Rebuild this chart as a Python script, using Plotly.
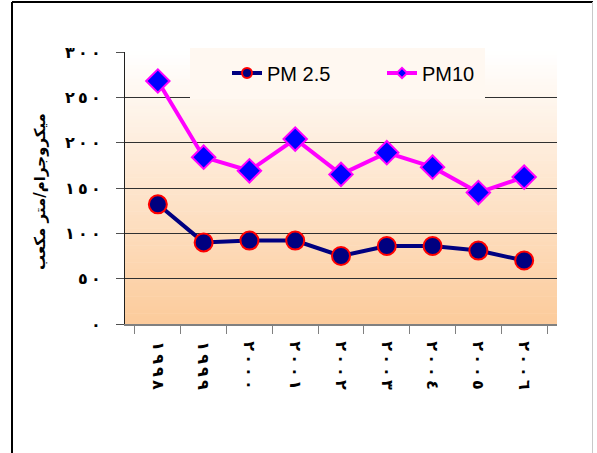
import plotly.graph_objects as go

categories = ["1998", "1999", "2000", "2001", "2002", "2003", "2004", "2005", "2006"]
cat_labels = ["١٩٩٨", "١٩٩٩", "٢٠٠٠", "٢٠٠١", "٢٠٠٢", "٢٠٠٣", "٢٠٠٤", "٢٠٠٥", "٢٠٠٦"]
pm25 = [132, 90, 92, 92, 75, 86, 86, 81, 70]
pm10 = [268, 184, 169, 204, 165, 189, 173, 145, 162]
y_ticks = [0, 50, 100, 150, 200, 250, 300]
y_labels = ["٠", "٥٠", "١٠٠", "١٥٠", "٢٠٠", "٢٥٠", "٣٠٠"]
y_title = "ميكروجرام/متر مكعب"

LRO, PDF = "\u202d", "\u202c"
def spaced(s):
    return LRO + "\u2009".join(list(s)) + PDF

W, H = 597, 453
L, R, T, B = 125, 40, 52, 129
pw, ph = W - L - R, H - T - B

def px(x):
    return (x - L) / pw

def py(y):
    return (H - B - y) / ph

fig = go.Figure()

fig.add_trace(go.Scatter(
    x=categories, y=pm25, mode="lines+markers", name="PM 2.5", showlegend=False,
    line=dict(color="#000080", width=4),
    marker=dict(symbol="circle", size=18, color="#000080", line=dict(color="#FF0000", width=2)),
))
fig.add_trace(go.Scatter(
    x=categories, y=pm10, mode="lines+markers", name="PM10", showlegend=False,
    line=dict(color="#FF00FF", width=4),
    marker=dict(symbol="diamond", size=18, color="#0000FF", line=dict(color="#FF00FF", width=2)),
))
# legend-only entries
fig.add_trace(go.Scatter(
    x=[None], y=[None], mode="lines+markers", name="PM 2.5",
    line=dict(color="#000080", width=4),
    marker=dict(symbol="circle", size=10, color="#000080", line=dict(color="#FF0000", width=2)),
))
fig.add_trace(go.Scatter(
    x=[None], y=[None], mode="lines+markers", name="PM10",
    line=dict(color="#FF00FF", width=4),
    marker=dict(symbol="diamond", size=8, color="#0000FF", line=dict(color="#FF00FF", width=2)),
))

shapes = []
# vertical gradient background of plot area
N = 80
c0 = (255, 255, 255)
c1 = (252, 203, 155)
for i in range(N):
    t = (i + 0.5) / N  # 0 at top -> 1 at bottom
    col = tuple(round(c0[k] + (c1[k] - c0[k]) * t) for k in range(3))
    shapes.append(dict(type="rect", xref="paper", yref="paper", layer="below",
                       x0=0, x1=1, y0=1 - (i + 1) / N, y1=1 - i / N + 0.002,
                       fillcolor="rgb(%d,%d,%d)" % col, line=dict(width=0)))
# legend backdrop hiding gridlines
shapes.append(dict(type="rect", xref="paper", yref="paper", layer="above",
                   x0=px(190), x1=px(485), y0=py(99), y1=py(48),
                   fillcolor="#FFF8F1", line=dict(width=0)))
# outer frame
shapes.append(dict(type="line", xref="paper", yref="paper", layer="above",
                   x0=px(12), x1=px(12), y0=py(2), y1=py(470), line=dict(color="black", width=2)))
shapes.append(dict(type="line", xref="paper", yref="paper", layer="above",
                   x0=px(12), x1=px(593), y0=py(2), y1=py(2), line=dict(color="black", width=2)))
shapes.append(dict(type="line", xref="paper", yref="paper", layer="above",
                   x0=px(592.5), x1=px(592.5), y0=py(2), y1=py(470), line=dict(color="#C8C8C8", width=1)))

fig.update_layout(
    width=W, height=H,
    margin=dict(l=L, r=R, t=T, b=B, autoexpand=False),
    paper_bgcolor="white",
    plot_bgcolor="rgba(0,0,0,0)",
    shapes=shapes,
    showlegend=True,
    legend=dict(orientation="h", x=px(227), y=py(73), xanchor="left", yanchor="middle",
                bgcolor="rgba(0,0,0,0)", entrywidth=110,
                font=dict(family="Liberation Sans, Arial", size=20, color="black")),
    annotations=[dict(text="<b>%s</b>" % y_title, xref="paper", yref="paper",
                      x=px(40), y=py(192), xanchor="center", yanchor="middle",
                      textangle=-90, showarrow=False,
                      font=dict(family="DejaVu Sans", size=15, color="black"))],
    font=dict(family="DejaVu Sans", color="black"),
)

fig.update_xaxes(
    type="category", categoryorder="array", categoryarray=categories,
    tickmode="array", tickvals=categories, ticktext=[spaced(s) for s in cat_labels],
    tickangle=90, tickson="boundaries", ticks="outside", ticklen=8, tickcolor="#808080",
    showline=True, linecolor="#808080", linewidth=2, showgrid=False, zeroline=False,
    tickfont=dict(family="DejaVu Sans", size=16, color="black", weight="bold"),
    ticklabelstandoff=12, automargin=False,
)
fig.update_yaxes(
    range=[0, 300], tickmode="array", tickvals=y_ticks, ticktext=[spaced(s) for s in y_labels],
    ticks="outside", ticklen=8, tickcolor="#505050",
    showline=True, linecolor="#202020", linewidth=1,
    showgrid=True, gridcolor="#303030", gridwidth=1, zeroline=False,
    tickfont=dict(family="DejaVu Sans", size=16, color="black", weight="bold"),
    ticklabelstandoff=12, automargin=False,
)

fig.write_html("out.html", config={"displayModeBar": False},
               post_script="document.body.style.margin='0';document.body.style.overflow='hidden';")
